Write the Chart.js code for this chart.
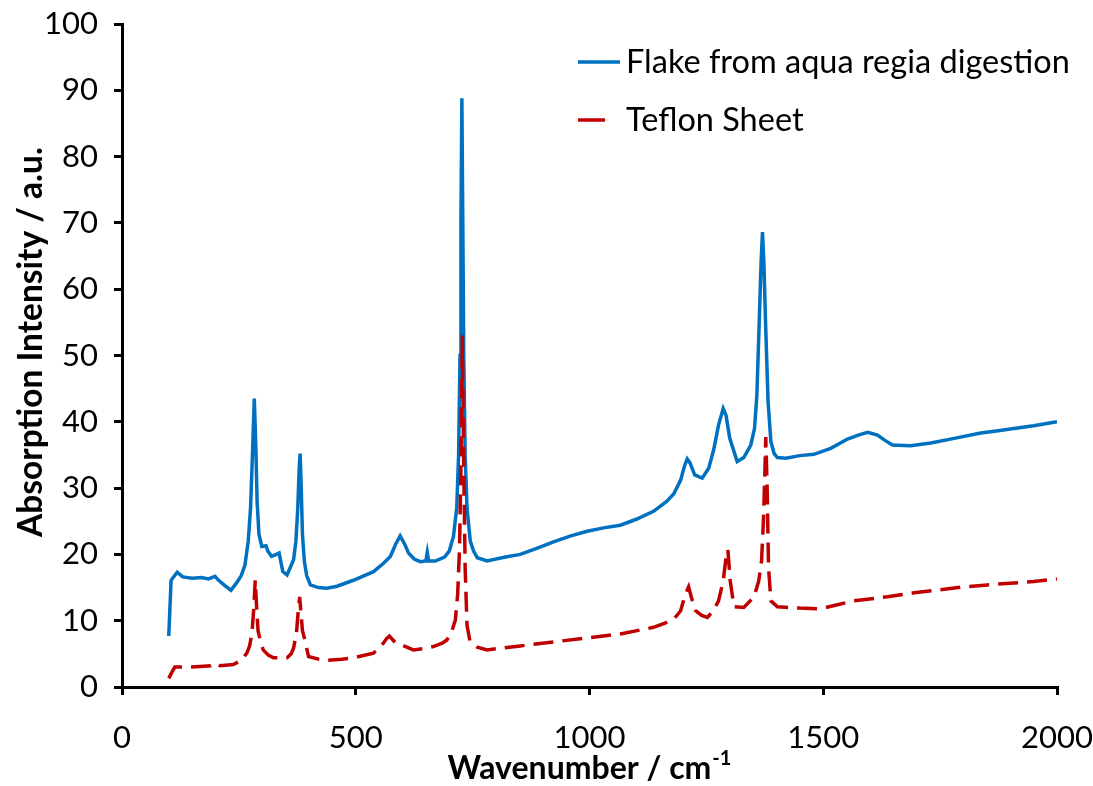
<!DOCTYPE html>
<html>
<head>
<meta charset="utf-8">
<title>Absorption spectra</title>
<script src="https://cdn.jsdelivr.net/npm/chart.js@4.4.1/dist/chart.umd.min.js"></script>
<style>
  html, body { margin: 0; padding: 0; background: #fff; }
  #wrap { width: 1093px; height: 786px; }
</style>
</head>
<body>
<div id="wrap"><canvas id="spectrum" width="1093" height="786"></canvas></div>
<script>
// Spectrum of the flake left after aqua regia digestion
const flakeWavenumber = [
    100, 105, 118, 130, 150, 170, 185, 199, 205, 220, 233, 245,
    255, 263, 270, 275, 279, 283, 286, 289, 293, 299, 308, 312, 320, 330, 336, 344, 353,
    367, 372, 376, 379, 381, 383, 386, 390, 395, 403, 420, 438, 460, 495, 538, 560, 574,
    585, 595, 605, 613, 625, 638, 650, 653, 656, 670, 690, 700, 709, 716, 720,
    723, 725, 727, 729, 731, 734, 738, 745, 752, 760, 781, 820, 852, 890, 923,
    960, 995, 1030, 1066, 1100, 1137, 1165, 1180, 1195, 1203, 1209, 1215, 1225,
    1241, 1255, 1266, 1276, 1286, 1292, 1300, 1316, 1330, 1345, 1353, 1358,
    1363, 1367, 1370, 1373, 1377, 1382, 1388, 1395, 1402, 1420, 1450, 1480, 1516, 1552,
    1575, 1595, 1616, 1632, 1648, 1687, 1730, 1780, 1837, 1870, 1908, 1950, 2000
];
const flakeIntensity = [
    7.7, 16.1, 17.3, 16.6, 16.4, 16.5, 16.3, 16.7, 16.2, 15.3, 14.6, 15.7,
    16.8, 18.4, 22, 27, 35, 43.5, 37, 28, 23, 21.2, 21.3, 20.5, 19.7, 20.0, 20.2, 17.4, 16.9,
    19.2, 22, 27, 33, 35.2, 31, 23, 19, 16.8, 15.4, 15.0, 14.9, 15.2, 16.1, 17.4, 18.7, 19.7,
    21.5, 22.8, 21.5, 20.2, 19.3, 18.9, 19.0, 20.3, 19.0, 19.0, 19.6, 20.5, 22.7, 27, 35,
    50, 70, 88.8, 70, 50, 35, 27, 22, 20.5, 19.5, 19.0, 19.6, 20.0, 21.0, 21.9,
    22.8, 23.5, 24.0, 24.4, 25.3, 26.5, 28.0, 29.1, 31.2, 33.3, 34.4, 33.8, 32.0,
    31.5, 33.0, 35.9, 39.5, 42.0, 41.0, 37.5, 34.0, 34.6, 36.5, 39, 44,
    55, 64, 68.6, 64, 54, 43, 37, 35.2, 34.6, 34.5, 34.9, 35.1, 36.0, 37.4,
    38.0, 38.4, 38.0, 37.2, 36.5, 36.4, 36.8, 37.5, 38.3, 38.6, 39.0, 39.4, 40.0
];

// Reference PTFE sheet
const teflonWavenumber = [
    100, 108, 113, 138, 167, 190, 199, 210, 238, 255, 267, 273, 278, 282, 285,
    288, 291, 294, 302, 313, 324, 353, 362, 367, 373, 377, 380, 383, 386, 390,
    399, 420, 438, 470, 495, 538, 559, 566, 572, 578, 586, 599, 623, 645, 666,
    685, 695, 705, 713, 718, 722, 725, 728, 731, 734, 738, 744, 749, 760, 781,
    852, 923, 995, 1066, 1137, 1160, 1180, 1195, 1201, 1207, 1212, 1218, 1227,
    1240, 1252, 1265, 1276, 1286, 1292, 1296, 1301, 1309, 1330, 1352, 1362,
    1368, 1372, 1375, 1377, 1380, 1383, 1388, 1402, 1450, 1494, 1530, 1566,
    1637, 1694, 1744, 1801, 1851, 1908, 1950, 2000
];
const teflonIntensity = [
    1.3, 2.4, 3.0, 3.0, 3.1, 3.2, 3.6, 3.2, 3.4, 4.0, 5.1, 6.2, 8.1, 12, 16.1,
    12, 8.5, 7.6, 5.6, 4.8, 4.4, 4.4, 5.0, 5.9, 8.0, 11.5, 13.6, 11.0, 8.5, 7.4,
    4.6, 4.2, 4.0, 4.2, 4.4, 5.1, 6.6, 7.3, 7.7, 7.2, 6.6, 6.3, 5.6, 5.8, 6.1,
    6.6, 7.1, 8.3, 10.1, 14, 21, 33, 53, 33, 18, 9.3, 7.0, 6.6, 6.0, 5.6,
    6.2, 6.8, 7.4, 8.0, 9.0, 9.6, 10.2, 11.5, 13.0, 14.3, 15.1, 13.5, 11.5,
    10.8, 10.5, 11.5, 13.0, 16, 19.5, 20.7, 16, 12.1, 12.0, 13.6, 16,
    19, 25, 32, 37.7, 30, 18, 13.0, 12.1, 11.9, 11.8, 12.4, 13.0,
    13.6, 14.2, 14.6, 15.1, 15.4, 15.7, 15.9, 16.3
];

const xTicks = [0, 500, 1000, 1500, 2000];
const yTicks = [0, 10, 20, 30, 40, 50, 60, 70, 80, 90, 100];

const FONT = 'Lato';
const BLUE = '#0070C0';
const RED = '#C00000';

function toPoints(xs, ys) {
    return xs.map((x, i) => ({ x: x, y: ys[i] }));
}

// legend in the top right of the plot, drawn by hand so it can sit inside the axes
const sideLegend = {
    id: 'sideLegend',
    afterDraw(chart) {
        const ctx = chart.ctx;
        const rows = [
            { ds: chart.data.datasets[0], y: 62, len: 42 },
            { ds: chart.data.datasets[1], y: 120, len: 27 }
        ];
        ctx.save();
        rows.forEach(r => {
            ctx.strokeStyle = r.ds.borderColor;
            ctx.lineWidth = 3.5;
            ctx.setLineDash([]);
            ctx.beginPath();
            ctx.moveTo(578, r.y);
            ctx.lineTo(578 + r.len, r.y);
            ctx.stroke();
            ctx.fillStyle = '#000';
            ctx.font = `32.5px ${FONT}`;
            ctx.textAlign = 'left';
            ctx.textBaseline = 'middle';
            ctx.fillText(r.ds.label, 626, r.y + 1);
        });
        ctx.restore();
    }
};

// axis titles; the x one needs a superscript
const axisTitles = {
    id: 'axisTitles',
    afterDraw(chart) {
        const ctx = chart.ctx;
        const area = chart.chartArea;
        ctx.save();
        ctx.fillStyle = '#000';
        ctx.textBaseline = 'alphabetic';

        const main = 'Wavenumber / cm';
        const sup = '-1';
        ctx.font = `bold 32px ${FONT}`;
        const wMain = ctx.measureText(main).width;
        ctx.font = `bold 20px ${FONT}`;
        const wSup = ctx.measureText(sup).width;
        const x0 = (area.left + area.right) / 2 - (wMain + wSup + 1) / 2;
        ctx.font = `bold 32px ${FONT}`;
        ctx.textAlign = 'left';
        ctx.fillText(main, x0, 779);
        ctx.font = `bold 20px ${FONT}`;
        ctx.fillText(sup, x0 + wMain + 1, 765);

        ctx.translate(31, 342);
        ctx.rotate(-Math.PI / 2);
        ctx.font = `bold 33.5px ${FONT}`;
        ctx.textAlign = 'center';
        ctx.textBaseline = 'middle';
        ctx.fillText('Absorption Intensity / a.u.', 0, 0);
        ctx.restore();
    }
};

const ctx = document.getElementById('spectrum').getContext('2d');
new Chart(ctx, {
    type: 'line',
    data: {
        datasets: [{
            label: 'Flake from aqua regia digestion',
            data: toPoints(flakeWavenumber, flakeIntensity),
            borderColor: BLUE,
            borderWidth: 3.5,
            pointRadius: 0,
            tension: 0,
            order: 2
        }, {
            label: 'Teflon Sheet',
            data: toPoints(teflonWavenumber, teflonIntensity),
            borderColor: RED,
            borderWidth: 3.5,
            borderDash: [20, 9],
            pointRadius: 0,
            tension: 0,
            order: 1
        }]
    },
    options: {
        responsive: false,
        animation: false,
        layout: { padding: { top: 24, right: 36, left: 0, bottom: 0 } },
        plugins: {
            legend: { display: false },
            tooltip: { enabled: false }
        },
        scales: {
            x: {
                type: 'linear',
                min: xTicks[0],
                max: xTicks[xTicks.length - 1],
                afterFit: s => { s.height = 99; s.paddingLeft = 0; s.paddingRight = 0; },
                afterBuildTicks: s => { s.ticks = xTicks.map(v => ({ value: v })); },
                border: { display: true, color: '#000', width: 3 },
                grid: { drawOnChartArea: false, drawTicks: true, tickLength: 8, color: '#000', lineWidth: 3 },
                ticks: {
                    color: '#000', font: { family: FONT, size: 31 }, padding: 24, maxRotation: 0,
                    callback: v => String(v)
                }
            },
            y: {
                type: 'linear',
                min: yTicks[0],
                max: yTicks[yTicks.length - 1],
                afterFit: s => { s.width = 122; s.paddingTop = 0; s.paddingBottom = 0; },
                afterBuildTicks: s => { s.ticks = yTicks.map(v => ({ value: v })); },
                border: { display: true, color: '#000', width: 3 },
                grid: { drawOnChartArea: false, drawTicks: true, tickLength: 8, color: '#000', lineWidth: 3 },
                ticks: {
                    color: '#000', font: { family: FONT, size: 31 }, padding: 16,
                    callback: v => String(v)
                }
            }
        }
    },
    plugins: [sideLegend, axisTitles]
});
</script>
</body>
</html>
